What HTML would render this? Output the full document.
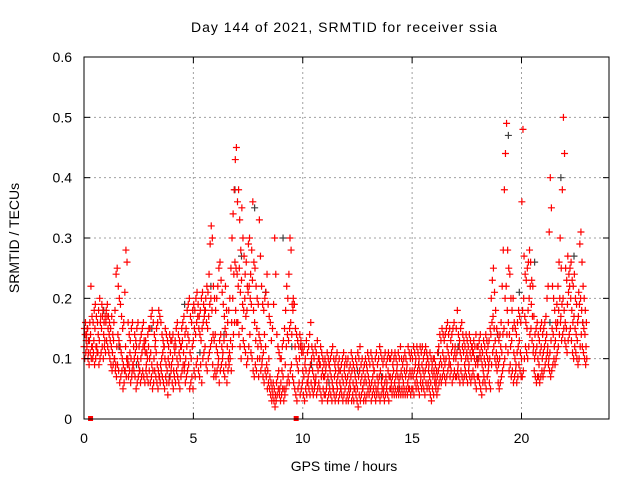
<!DOCTYPE html>
<html><head><meta charset="utf-8"><style>
html,body{margin:0;padding:0;background:#fff}
svg text{font-family:"Liberation Sans",sans-serif;fill:#000}
</style></head><body>
<svg id="chart" width="640" height="480" viewBox="0 0 640 480" xmlns="http://www.w3.org/2000/svg">
<rect width="640" height="480" fill="#fff"/>
<text x="344" y="32" font-size="14" text-anchor="middle" textLength="306">Day 144 of 2021, SRMTID for receiver ssia</text>
<text x="344" y="471" font-size="14" text-anchor="middle">GPS time / hours</text>
<text transform="translate(19,238) rotate(-90)" font-size="14" text-anchor="middle">SRMTID / TECUs</text>
<g id="grid"></g><g id="pts"></g><g id="axes"></g>
</svg>
<script>
const xTicks=[0,5,10,15,20];
const yTicks=[0,0.1,0.2,0.3,0.4,0.5,0.6];
const yTickLabels=["0","0.1","0.2","0.3","0.4","0.5","0.6"];
const tStep=0.05;
const seriesStart=[0.0,0.017,0.033];
// values in hundredths of TECU, one row per hour
const seriesA=[
12,14,13,15,11,13,14,12,10,13,15,12,11,14,13,16,15,17,14,13,
16,17,15,14,13,12,11,13,10,9,12,14,13,12,11,10,9,8,12,10,
10,9,11,10,8,9,10,11,12,10,9,8,10,11,12,13,11,9,10,12,
10,11,9,8,10,12,11,9,8,7,9,10,11,12,10,9,8,10,9,11,
9,10,8,11,12,10,9,11,10,12,13,11,9,10,12,14,13,11,10,12,
13,15,14,16,17,15,14,13,15,16,17,18,16,15,17,19,20,18,14,13,
14,12,11,10,13,14,12,11,13,15,14,12,10,11,13,16,20,24,26,25,
24,22,25,21,23,19,18,20,17,18,21,22,20,19,23,18,16,13,15,12,
14,13,12,10,11,14,12,9,8,10,7,6,5,6,5,4,6,7,8,5,
6,8,7,5,9,12,14,13,15,16,14,18,19,12,10,9,8,10,12,11,
8,7,9,8,6,7,8,9,10,8,7,6,7,9,8,10,9,7,8,7,
7,8,6,7,9,8,7,6,5,7,8,6,7,8,6,5,7,6,8,7,
6,7,5,6,7,8,6,5,7,6,5,7,8,6,7,5,6,7,6,8,
7,6,5,6,7,8,6,5,7,6,7,8,6,7,5,6,7,6,8,7,
7,6,7,8,6,7,8,7,6,7,8,7,6,8,7,8,6,7,8,7,
8,7,8,9,7,8,9,8,7,9,8,7,8,9,10,8,7,6,8,7,
8,7,6,7,8,9,10,9,11,10,9,10,12,11,10,9,11,12,10,11,
10,11,9,12,11,10,12,11,9,10,11,10,9,11,10,12,11,10,9,10,
9,10,11,10,9,8,10,9,11,10,9,10,14,16,17,15,13,11,10,9,
10,12,11,14,15,20,22,18,16,14,12,13,15,11,10,9,11,12,13,11,
10,18,20,17,16,15,18,20,22,19,17,12,10,11,12,10,9,11,12,10,
11,12,13,14,12,10,11,13,15,14,12,13,15,16,18,20,17,19,20,18,
16,15,19,21,22,20,18,16,17,15,14,13,17,19,20,18,16,15,14,12];
const seriesB=[
15,16,14,15,13,16,22,17,16,18,19,17,16,18,20,17,19,18,16,17,
18,19,17,16,15,17,14,16,18,24,25,22,20,19,17,15,16,21,28,26,
16,14,13,15,16,12,14,13,15,16,12,13,14,15,16,12,13,11,14,15,
15,17,18,16,14,13,15,16,18,17,16,14,13,12,15,14,13,12,14,13,
13,14,12,13,15,16,14,13,12,15,16,17,14,15,18,19,20,17,16,18,
19,18,20,21,19,17,18,20,21,19,18,20,22,21,24,29,32,30,22,20,
18,20,22,25,26,23,21,19,17,22,18,16,18,20,25,30,34,38,43,45,
36,38,33,28,35,30,27,24,26,22,29,30,24,28,36,26,25,22,20,19,
33,27,22,19,18,20,21,24,19,17,16,13,15,19,30,24,14,12,11,10,
10,12,13,15,18,22,20,24,30,28,19,20,19,15,14,13,12,14,13,12,
11,12,10,13,11,12,14,16,12,11,10,12,11,13,10,9,12,11,10,9,
10,9,11,10,9,10,11,12,10,9,10,11,9,10,8,9,10,11,9,10,
9,10,8,9,11,10,9,8,10,9,11,10,12,9,10,8,9,10,9,11,
10,9,11,10,9,8,10,11,9,10,12,11,10,9,10,11,9,10,11,10,
10,11,9,10,11,10,9,11,10,12,10,9,10,11,10,9,12,11,10,11,
10,12,11,10,12,11,10,12,11,12,10,11,12,11,10,9,11,10,9,10,
10,9,8,11,12,14,13,15,14,13,14,15,16,14,15,13,14,15,16,12,
15,18,14,13,15,16,14,13,12,14,13,12,14,13,12,11,13,12,14,12,
12,13,14,12,11,13,12,14,13,12,13,15,20,23,25,21,18,15,14,13,
14,16,22,28,38,44,49,28,25,24,20,18,20,16,15,14,16,18,17,16,
36,48,27,24,23,25,26,28,26,23,22,17,14,15,16,14,13,15,16,14,
15,16,17,20,22,31,40,35,22,20,18,16,19,22,26,30,25,38,50,44,
25,23,27,24,25,26,23,22,24,20,19,16,21,29,31,26,22,20,18,16];
const seriesC=[
10,11,12,10,9,11,10,12,11,9,10,12,11,9,10,11,12,10,12,11,
13,12,11,10,9,8,9,10,8,7,9,8,6,7,8,5,6,8,7,9,
7,8,6,7,9,8,7,5,6,7,8,6,7,8,7,6,8,7,6,8,
6,7,5,6,8,7,6,5,7,6,8,7,6,5,7,6,4,6,7,8,
6,5,7,6,8,7,6,5,7,8,9,8,6,7,8,9,5,6,7,5,
8,7,9,10,8,7,9,6,10,11,12,9,8,10,11,12,13,9,7,8,
7,8,9,6,8,9,10,8,7,9,6,8,9,10,8,12,14,16,18,16,
16,14,12,10,15,13,12,11,9,10,12,14,11,10,8,7,9,8,10,7,
10,8,9,7,6,8,7,5,6,5,4,3,4,3,2,3,4,5,4,3,
4,5,3,4,5,6,7,6,8,9,7,6,5,4,3,5,6,4,5,6,
4,3,5,4,6,5,4,6,5,4,5,6,4,5,6,5,4,3,5,4,
4,5,3,4,5,4,3,5,4,3,4,5,3,4,5,4,3,4,5,3,
4,3,4,5,3,4,3,5,4,3,2,4,3,4,5,3,4,3,4,5,
4,5,3,4,5,4,3,4,5,4,3,4,5,4,3,4,5,4,3,5,
5,4,5,4,5,4,5,4,5,4,5,4,5,4,5,4,5,5,4,5,
5,4,6,5,6,5,4,6,5,6,5,4,6,5,6,5,4,3,5,4,
6,5,4,5,6,7,6,7,8,7,6,7,8,9,7,8,6,7,8,7,
7,8,7,6,8,7,6,7,8,7,6,8,7,6,7,8,7,6,5,7,
7,6,5,4,6,7,6,5,7,8,6,5,9,11,12,10,9,8,6,5,
6,7,8,9,10,12,14,11,8,9,7,8,6,7,8,6,7,9,8,7,
7,8,10,12,11,10,12,14,15,13,11,8,7,6,7,7,6,7,8,7,
8,9,10,11,9,8,7,8,9,10,9,10,11,12,14,16,13,14,15,13,
12,11,13,14,15,13,11,10,12,11,10,9,10,12,14,12,11,10,9,10];
const grayT=[0.2,0.9,1.6,2.4,3.1,3.9,4.6,5.3,5.8,6.4,6.9,7.2,7.8,8.3,9.1,9.5,10.4,11.2,12.5,13.6,14.4,15.3,16.2,17.1,18.0,18.9,19.4,19.9,20.6,21.3,21.8,22.4,22.8];
const grayV=[0.13,0.18,0.12,0.09,0.15,0.07,0.19,0.11,0.22,0.14,0.38,0.27,0.35,0.21,0.30,0.12,0.09,0.06,0.08,0.07,0.05,0.09,0.11,0.12,0.10,0.14,0.47,0.21,0.26,0.16,0.40,0.27,0.16];
const markT=[0.3,9.7];

const X0=84,X1=609,Y0=419,Y1=57;
const xs=t=>X0+(t-0)/(24-0)*(X1-X0);
const ys=v=>Y0-(v-0)/(0.6-0)*(Y0-Y1);
const NS="http://www.w3.org/2000/svg";
function mk(tag,attrs,parent){const e=document.createElementNS(NS,tag);for(const k in attrs)e.setAttribute(k,attrs[k]);parent.appendChild(e);return e;}
const grid=document.getElementById('grid'),pts=document.getElementById('pts'),axes=document.getElementById('axes');
yTicks.forEach((v,i)=>{
  const y=ys(v);
  if(i>0&&i<yTicks.length-1){const g=mk('line',{x1:X0,x2:X1,y1:y,y2:y,stroke:'#a0a0a0','stroke-dasharray':'2,3','stroke-width':1},grid);
  
  }
  mk('line',{x1:X0,x2:X0+6,y1:y,y2:y,stroke:'#000'},axes);
  mk('line',{x1:X1-6,x2:X1,y1:y,y2:y,stroke:'#000'},axes);
  const t=mk('text',{x:X0-12,y:y+5,'font-size':14,'text-anchor':'end'},axes);
  t.textContent=yTickLabels[i];
  
  
});
xTicks.forEach(v=>{
  const x=xs(v);
  if(v>0){const g=mk('line',{x1:x,x2:x,y1:Y0,y2:Y1,stroke:'#a0a0a0','stroke-dasharray':'2,3','stroke-width':1},grid);
  
  }
  mk('line',{x1:x,x2:x,y1:Y0,y2:Y0-6,stroke:'#000'},axes);
  mk('line',{x1:x,x2:x,y1:Y1,y2:Y1+6,stroke:'#000'},axes);
  const t=mk('text',{x:x,y:Y0+24,'font-size':14,'text-anchor':'middle'},axes);
  t.textContent=String(v);
  
  
});
const frame=mk('rect',{x:X0,y:Y1,width:X1-X0,height:Y0-Y1,fill:'none',stroke:'#000','stroke-width':1},axes);


function plus(t,v,col,name){
  const x=xs(t),y=ys(v);
  const p=mk('path',{d:`M${x-3.5},${y}h7M${x},${y-3.5}v7`,stroke:col,'stroke-width':1.2,fill:'none'},pts);
  
  
}
grayT.forEach((t,i)=>plus(t,grayV[i],'#404040','gray-point'));
[seriesA,seriesB,seriesC].forEach((s,k)=>s.forEach((v,i)=>plus(seriesStart[k]+i*tStep,v/100,'#ff0000','srmtid-point')));
markT.forEach(t=>{
  const r=mk('rect',{x:xs(t)-2.5,y:Y0-3,width:5,height:5,fill:'#ff0000'},pts);
  
  
});
</script>
</body></html>
